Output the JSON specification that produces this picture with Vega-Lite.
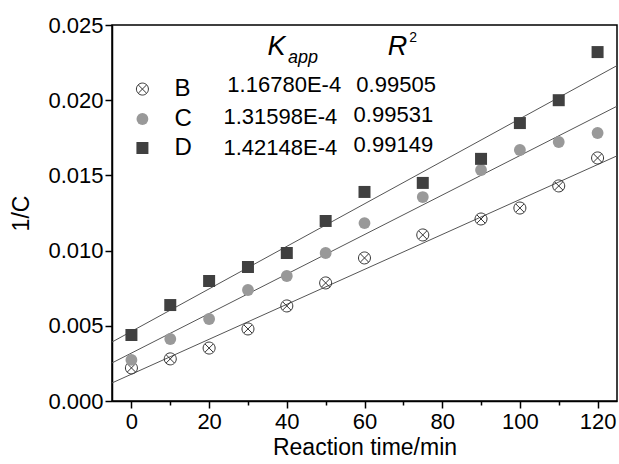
{
  "$schema": "https://vega.github.io/schema/vega-lite/v6.json",
  "width": 505,
  "height": 376,
  "autosize": {"type": "none"},
  "padding": {"left": 112, "top": 25, "right": 2, "bottom": 63},
  "background": "white",
  "config": {
    "view": {"stroke": "#000", "strokeWidth": 1.5},
    "axis": {"domainColor": "#000", "domainWidth": 1.5, "tickColor": "#000", "tickWidth": 1.5, "labelColor": "#000", "titleColor": "#000", "grid": false, "labelFont": "Liberation Sans", "titleFont": "Liberation Sans", "titleFontWeight": "normal", "labelFontSize": 22, "titleFontSize": 23}
  },
  "datasets": {
    "points": [
      {"series": "B", "t": 0, "v": 0.0022}, {"series": "B", "t": 10, "v": 0.0028}, {"series": "B", "t": 20, "v": 0.00352}, {"series": "B", "t": 30, "v": 0.00479}, {"series": "B", "t": 40, "v": 0.00632}, {"series": "B", "t": 50, "v": 0.00785}, {"series": "B", "t": 60, "v": 0.00951}, {"series": "B", "t": 75, "v": 0.01104}, {"series": "B", "t": 90, "v": 0.0121}, {"series": "B", "t": 100, "v": 0.01283}, {"series": "B", "t": 110, "v": 0.0143}, {"series": "B", "t": 120, "v": 0.01616},
      {"series": "C", "t": 0, "v": 0.00273}, {"series": "C", "t": 10, "v": 0.00412}, {"series": "C", "t": 20, "v": 0.00545}, {"series": "C", "t": 30, "v": 0.00738}, {"series": "C", "t": 40, "v": 0.00831}, {"series": "C", "t": 50, "v": 0.00984}, {"series": "C", "t": 60, "v": 0.01183}, {"series": "C", "t": 75, "v": 0.01356}, {"series": "C", "t": 90, "v": 0.01536}, {"series": "C", "t": 100, "v": 0.01669}, {"series": "C", "t": 110, "v": 0.01722}, {"series": "C", "t": 120, "v": 0.01782},
      {"series": "D", "t": 0, "v": 0.00439}, {"series": "D", "t": 10, "v": 0.00638}, {"series": "D", "t": 20, "v": 0.00798}, {"series": "D", "t": 30, "v": 0.00891}, {"series": "D", "t": 40, "v": 0.00984}, {"series": "D", "t": 50, "v": 0.01197}, {"series": "D", "t": 60, "v": 0.0139}, {"series": "D", "t": 75, "v": 0.0145}, {"series": "D", "t": 90, "v": 0.0161}, {"series": "D", "t": 100, "v": 0.01848}, {"series": "D", "t": 110, "v": 0.02}, {"series": "D", "t": 120, "v": 0.0232}
    ],
    "fits": [
      {"series": "B", "t": -5, "v": 0.0012}, {"series": "B", "t": 125, "v": 0.0163},
      {"series": "C", "t": -5, "v": 0.00253}, {"series": "C", "t": 125, "v": 0.0196},
      {"series": "D", "t": -5, "v": 0.00392}, {"series": "D", "t": 125, "v": 0.0223}
    ],
    "legendMarks": [
      {"series": "B", "t": 2.83, "v": 0.02074},
      {"series": "C", "t": 2.83, "v": 0.01875},
      {"series": "D", "t": 2.83, "v": 0.01682}
    ],
    "labels": [
      {"kind": "letter", "t": 11.1, "v": 0.02074, "text": "B"},
      {"kind": "letter", "t": 11.1, "v": 0.01875, "text": "C"},
      {"kind": "letter", "t": 11.1, "v": 0.01682, "text": "D"},
      {"kind": "num", "t": 24.7, "v": 0.02101, "text": "1.16780E-4"},
      {"kind": "num", "t": 23.7, "v": 0.01888, "text": "1.31598E-4"},
      {"kind": "num", "t": 23.7, "v": 0.01682, "text": "1.42148E-4"},
      {"kind": "num", "t": 57.9, "v": 0.02101, "text": "0.99505"},
      {"kind": "num", "t": 57.2, "v": 0.01902, "text": "0.99531"},
      {"kind": "num", "t": 57.2, "v": 0.01702, "text": "0.99149"},
      {"kind": "head", "t": 35.0, "v": 0.02301, "text": "K"},
      {"kind": "head", "t": 66.0, "v": 0.02301, "text": "R"},
      {"kind": "sub", "t": 40.3, "v": 0.02247, "text": "app"},
      {"kind": "sup", "t": 71.5, "v": 0.02387, "text": "2"}
    ]
  },
  "layer": [
    {
      "data": {"name": "fits"},
      "mark": {"type": "line", "color": "#555", "strokeWidth": 1, "clip": true},
      "encoding": {
        "x": {"field": "t", "type": "quantitative", "scale": {"domain": [-5, 125], "nice": false, "zero": false},
          "axis": {"values": [0, 10, 20, 30, 40, 50, 60, 70, 80, 90, 100, 110, 120], "labelExpr": "datum.value % 20 == 0 ? datum.label : ''", "tickSize": {"condition": {"test": "datum.value % 20 != 0", "value": 4}, "value": 7}, "labelPadding": 3, "title": "Reaction time/min", "titlePadding": 4}},
        "y": {"field": "v", "type": "quantitative", "scale": {"domain": [0, 0.025], "nice": false, "zero": false},
          "axis": {"values": [0, 0.0025, 0.005, 0.0075, 0.01, 0.0125, 0.015, 0.0175, 0.02, 0.0225, 0.025], "format": ".3f", "labelExpr": "round(datum.value * 10000) % 50 == 0 ? datum.label : ''", "tickSize": {"condition": {"test": "round(datum.value * 10000) % 50 != 0", "value": 4}, "value": 7}, "labelPadding": 2, "title": "1/C", "titlePadding": 14}},
        "detail": {"field": "series"}
      }
    },
    {
      "data": {"name": "points"},
      "transform": [{"filter": "datum.series == 'B'"}],
      "mark": {"type": "point", "shape": "M1,0A1,1,0,1,1,-1,0A1,1,0,1,1,1,0M-0.707,-0.707L0.707,0.707M-0.707,0.707L0.707,-0.707", "filled": false, "stroke": "#333", "strokeWidth": 1, "size": 144, "opacity": 1},
      "encoding": {"x": {"field": "t", "type": "quantitative"}, "y": {"field": "v", "type": "quantitative"}}
    },
    {
      "data": {"name": "points"},
      "transform": [{"filter": "datum.series == 'C'"}],
      "mark": {"type": "point", "shape": "circle", "filled": true, "color": "#999999", "size": 140, "opacity": 1},
      "encoding": {"x": {"field": "t", "type": "quantitative"}, "y": {"field": "v", "type": "quantitative"}}
    },
    {
      "data": {"name": "points"},
      "transform": [{"filter": "datum.series == 'D'"}],
      "mark": {"type": "point", "shape": "square", "filled": true, "color": "#404040", "size": 144, "opacity": 1},
      "encoding": {"x": {"field": "t", "type": "quantitative"}, "y": {"field": "v", "type": "quantitative"}}
    },
    {
      "data": {"name": "legendMarks"},
      "transform": [{"filter": "datum.series == 'B'"}],
      "mark": {"type": "point", "shape": "M1,0A1,1,0,1,1,-1,0A1,1,0,1,1,1,0M-0.707,-0.707L0.707,0.707M-0.707,0.707L0.707,-0.707", "filled": false, "stroke": "#333", "strokeWidth": 1, "size": 144, "opacity": 1},
      "encoding": {"x": {"field": "t", "type": "quantitative"}, "y": {"field": "v", "type": "quantitative"}}
    },
    {
      "data": {"name": "legendMarks"},
      "transform": [{"filter": "datum.series == 'C'"}],
      "mark": {"type": "point", "shape": "circle", "filled": true, "color": "#999999", "size": 140, "opacity": 1},
      "encoding": {"x": {"field": "t", "type": "quantitative"}, "y": {"field": "v", "type": "quantitative"}}
    },
    {
      "data": {"name": "legendMarks"},
      "transform": [{"filter": "datum.series == 'D'"}],
      "mark": {"type": "point", "shape": "square", "filled": true, "color": "#404040", "size": 144, "opacity": 1},
      "encoding": {"x": {"field": "t", "type": "quantitative"}, "y": {"field": "v", "type": "quantitative"}}
    },
    {
      "data": {"name": "labels"},
      "transform": [{"filter": "datum.kind == 'letter'"}],
      "mark": {"type": "text", "align": "left", "baseline": "middle", "font": "Liberation Sans", "fontSize": 24, "color": "#000"},
      "encoding": {"x": {"field": "t", "type": "quantitative"}, "y": {"field": "v", "type": "quantitative"}, "text": {"field": "text"}}
    },
    {
      "data": {"name": "labels"},
      "transform": [{"filter": "datum.kind == 'num'"}],
      "mark": {"type": "text", "align": "left", "baseline": "middle", "font": "Liberation Sans", "fontSize": 22, "color": "#000"},
      "encoding": {"x": {"field": "t", "type": "quantitative"}, "y": {"field": "v", "type": "quantitative"}, "text": {"field": "text"}}
    },
    {
      "data": {"name": "labels"},
      "transform": [{"filter": "datum.kind == 'head'"}],
      "mark": {"type": "text", "align": "left", "baseline": "alphabetic", "font": "Liberation Sans", "fontStyle": "italic", "fontSize": 27, "color": "#000"},
      "encoding": {"x": {"field": "t", "type": "quantitative"}, "y": {"field": "v", "type": "quantitative"}, "text": {"field": "text"}}
    },
    {
      "data": {"name": "labels"},
      "transform": [{"filter": "datum.kind == 'sub'"}],
      "mark": {"type": "text", "align": "left", "baseline": "alphabetic", "font": "Liberation Sans", "fontStyle": "italic", "fontSize": 18, "color": "#000"},
      "encoding": {"x": {"field": "t", "type": "quantitative"}, "y": {"field": "v", "type": "quantitative"}, "text": {"field": "text"}}
    },
    {
      "data": {"name": "labels"},
      "transform": [{"filter": "datum.kind == 'sup'"}],
      "mark": {"type": "text", "align": "left", "baseline": "alphabetic", "font": "Liberation Sans", "fontSize": 14, "color": "#000"},
      "encoding": {"x": {"field": "t", "type": "quantitative"}, "y": {"field": "v", "type": "quantitative"}, "text": {"field": "text"}}
    }
  ]
}
